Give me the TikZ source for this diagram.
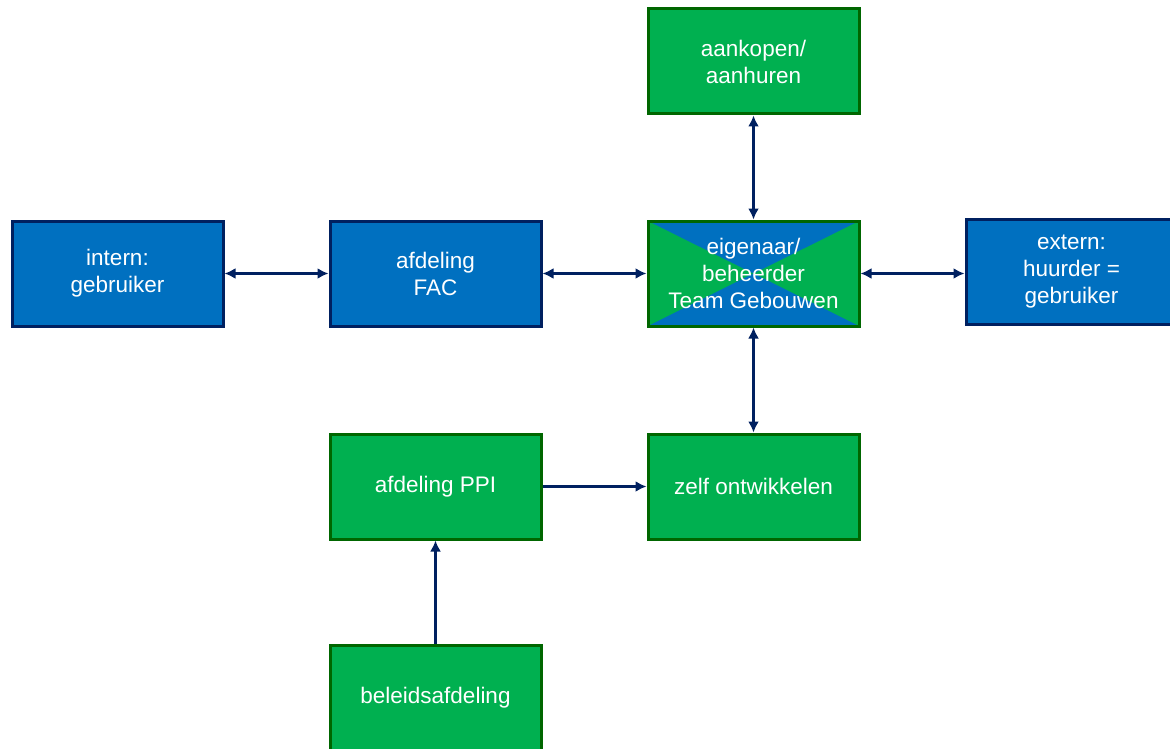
\documentclass[tikz,border=0pt]{standalone}
\usepackage{fontspec}
\setmainfont{Liberation Sans}
\usetikzlibrary{positioning,arrows.meta}
\definecolor{BoxBlue}{RGB}{0,112,192}
\definecolor{BoxGreen}{RGB}{0,176,80}
\definecolor{EdgeNavy}{RGB}{0,32,96}
\definecolor{EdgeGreen}{RGB}{0,102,0}
\newcommand{\bbox}[3]{
    \node(#1)[
        draw=EdgeNavy,
        line width=3pt,
        minimum width=211pt,
        minimum height=105pt,
        align=center,
        fill=BoxBlue,
        text=white,
        font=\fontsize{22.5}{27}\selectfont,
        #2
    ]{#3};
}
\newcommand{\gbox}[3]{
    \node(#1)[
        draw=EdgeGreen,
        line width=3pt,
        minimum width=211pt,
        minimum height=105pt,
        align=center,
        fill=BoxGreen,
        text=white,
        font=\fontsize{22.5}{27}\selectfont,
        #2
    ]{#3};
}
\tikzset{
    link/.style={
        line width=2.5pt,
        color=EdgeNavy,
        >={Latex[length=11pt,width=11pt]}
    },
    crossed/.style={
        path picture={
            \fill[BoxBlue] (path picture bounding box.north west) -- (path picture bounding box.center) -- (path picture bounding box.north east) -- cycle;
            \fill[BoxBlue] (path picture bounding box.south west) -- (path picture bounding box.center) -- (path picture bounding box.south east) -- cycle;
        }
    }
}

\begin{document}
\begin{tikzpicture}
	\useasboundingbox (0,0) rectangle (1170pt,-749pt);

	\bbox{intern}{at={(117.5pt,-273.5pt)}}{intern:\\gebruiker}
	\bbox{fac}{right=104pt of intern}{afdeling\\FAC}
	\gbox{owner}{right=104pt of fac, crossed}{eigenaar/\\beheerder\\Team Gebouwen}
	\bbox{extern}{right=104pt of owner, yshift=2pt}{extern:\\huurder =\\gebruiker}

	\gbox{buy}{above=104pt of owner}{aankopen/\\aanhuren}
	\gbox{develop}{below=105pt of owner}{zelf ontwikkelen}
	\gbox{ppi}{left=104pt of develop}{afdeling PPI}
	\gbox{policy}{below=103pt of ppi}{beleidsafdeling}

	\draw[<->, link] (intern) -- (fac);
	\draw[<->, link] (fac) -- (owner);
	\draw[<->, link] (owner) -- (extern.west |- owner);
	\draw[<->, link] (buy) -- (owner);
	\draw[<->, link] (owner) -- (develop);
	\draw[->, link] (ppi) -- (develop);
	\draw[->, link] (policy) -- (ppi);
\end{tikzpicture}
\end{document}
